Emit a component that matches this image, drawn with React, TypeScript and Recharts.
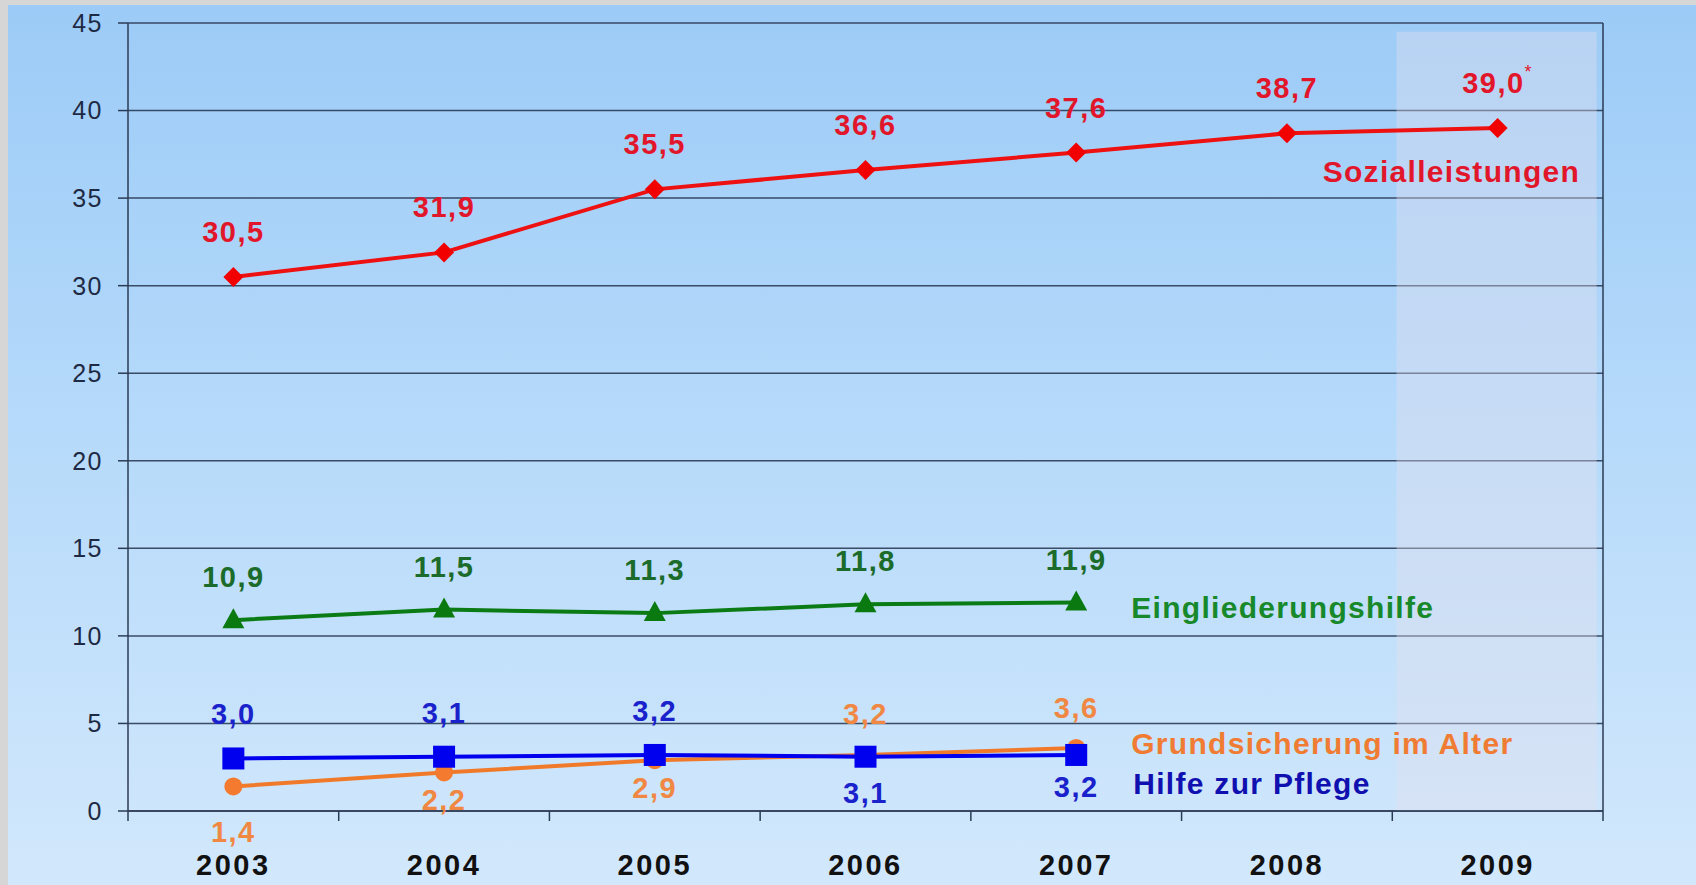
import { LineChart, Line, XAxis, YAxis, CartesianGrid, ReferenceArea, ReferenceLine, LabelList } from 'recharts'

const YEARS = [2003, 2004, 2005, 2006, 2007, 2008, 2009]
const SOZIALLEISTUNGEN = [30.5, 31.9, 35.5, 36.6, 37.6, 38.7, 39.0]
const EINGLIEDERUNGSHILFE = [10.9, 11.5, 11.3, 11.8, 11.9]
const GRUNDSICHERUNG = [1.4, 2.2, 2.9, 3.2, 3.6]
const HILFE_PFLEGE = [3.0, 3.1, 3.2, 3.1, 3.2]
const Y_TICKS = [0, 5, 10, 15, 20, 25, 30, 35, 40, 45]
const ESTIMATED_YEAR = 2009

// layout
const W = 1696
const H = 885
const M_TOP = 23
const M_RIGHT = 93
const Y_AXIS_W = 128
const X_AXIS_H = 74
const BAND = (W - Y_AXIS_W - M_RIGHT) / YEARS.length

const FONT = '"Liberation Sans", Arial, sans-serif'
const GRID = '#2b3b55'

const data = YEARS.map((year, i) => ({
  year,
  sozial: SOZIALLEISTUNGEN[i] ?? null,
  eingl: EINGLIEDERUNGSHILFE[i] ?? null,
  grund: GRUNDSICHERUNG[i] ?? null,
  pflege: HILFE_PFLEGE[i] ?? null,
}))

const bounds = [...YEARS.map((y) => y - 0.5), YEARS[YEARS.length - 1] + 0.5]

const fmt = (v: number) => v.toFixed(1).replace('.', ',')

// label offsets (px, center of text relative to marker)
const SOZ_DY = [-45, -45, -45, -45, -45, -45, -45]
const EIN_DY = [-43, -43, -43, -43, -43]
const GRU_DY = [46, 28, 28, -41, -40]
const PFL_DY = [-44, -44, -44, 36, 32]

type Shape = 'diamond' | 'triangle' | 'circle' | 'square'

function makeDot(shape: Shape, color: string) {
  return (p: any) => {
    const { cx, cy, index } = p
    if (cx == null || cy == null || Number.isNaN(cy) || p.value == null) return <g key={`e${index}`} />
    if (shape === 'diamond') {
      const r = 10
      return <path key={`d${index}`} d={`M${cx},${cy - r}L${cx + r},${cy}L${cx},${cy + r}L${cx - r},${cy}Z`} fill={color} />
    }
    if (shape === 'triangle') {
      return <path key={`d${index}`} d={`M${cx},${cy - 12}L${cx + 11},${cy + 8}L${cx - 11},${cy + 8}Z`} fill={color} />
    }
    if (shape === 'square') {
      return <rect key={`d${index}`} x={cx - 11} y={cy - 11} width={22} height={22} fill={color} />
    }
    return <circle key={`d${index}`} cx={cx} cy={cy} r={9} fill={color} />
  }
}

function makeLabel(
  dys: number[],
  color: string,
  name: string,
  nameColor: string,
  lastIndex: number,
  nameDx: number,
  nameDy: number,
) {
  return (p: any) => {
    const { x, y, value, index } = p
    if (value == null || x == null || y == null) return null
    const year = YEARS[index]
    return (
      <g key={`l${index}`}>
        <text
          x={x}
          y={y + dys[index]}
          textAnchor="middle"
          dominantBaseline="central"
          fill={color}
          fontFamily={FONT}
          fontWeight="bold"
          fontSize={29}
          letterSpacing={1.5}
        >
          {fmt(Number(value))}
          {year === ESTIMATED_YEAR && (
            <tspan fontSize={18} fontWeight="normal" dy={-11}>
              *
            </tspan>
          )}
        </text>
        {index === lastIndex && (
          <text
            x={x + nameDx}
            y={y + nameDy}
            dominantBaseline="central"
            fill={nameColor}
            fontFamily={FONT}
            fontWeight="bold"
            fontSize={30}
            letterSpacing={1.3}
          >
            {name}
          </text>
        )}
      </g>
    )
  }
}

function YearTick(p: any) {
  const { x, y, payload } = p
  const year = payload.value + 0.5
  if (!YEARS.includes(year)) return <g />
  return (
    <text
      x={x + BAND / 2}
      y={y + 54}
      textAnchor="middle"
      fill="#111"
      fontFamily={FONT}
      fontWeight="bold"
      fontSize={29}
      letterSpacing={2.5}
    >
      {year}
    </text>
  )
}

export default function App() {
  return (
    <div style={{ position: 'absolute', left: 0, top: 0, width: W, height: H, background: '#d6d6d6', overflow: 'hidden' }}>
      <div
        style={{
          position: 'absolute',
          left: 8,
          top: 5,
          width: W - 8,
          height: H - 5,
          background: 'linear-gradient(180deg, #9ccbf7 0%, #b4d9fa 45%, #d2e8fc 100%)',
        }}
      />
      <div style={{ position: 'absolute', left: 0, top: 0 }}>
        <LineChart width={W} height={H} data={data} margin={{ top: M_TOP, right: M_RIGHT, left: 0, bottom: 0 }}>
          <ReferenceArea
            x1={YEARS[YEARS.length - 1] - 0.48}
            x2={YEARS[YEARS.length - 1] + 0.47}
            y1={0}
            y2={44.5}
            fill="#e6dfec"
            fillOpacity={0.38}
            stroke="none"
          />
          <CartesianGrid vertical={false} stroke={GRID} strokeWidth={1.5} strokeOpacity={0.9} />
          <ReferenceLine x={bounds[bounds.length - 1]} stroke={GRID} strokeWidth={1.5} />
          <XAxis
            dataKey="year"
            type="number"
            domain={[bounds[0], bounds[bounds.length - 1]]}
            ticks={bounds}
            interval={0}
            height={X_AXIS_H}
            stroke={GRID}
            axisLine={{ stroke: GRID, strokeWidth: 1.5 }}
            tickLine={{ stroke: GRID, strokeWidth: 1.5 }}
            tickSize={10}
            tickMargin={0}
            tick={<YearTick />}
          />
          <YAxis
            domain={[0, 45]}
            ticks={Y_TICKS}
            interval={0}
            width={Y_AXIS_W}
            axisLine={{ stroke: GRID, strokeWidth: 1.5 }}
            tickLine={{ stroke: GRID, strokeWidth: 1.5 }}
            tickSize={10}
            tickMargin={15}
            tick={{ fill: '#1e2a44', fontSize: 25, fontFamily: FONT, letterSpacing: 1.5 }}
          />
          <Line
            dataKey="sozial"
            stroke="#ee1111"
            strokeWidth={4}
            dot={makeDot('diamond', '#f20000')}
            activeDot={false}
            isAnimationActive={false}
          >
            <LabelList
              dataKey="sozial"
              content={makeLabel(SOZ_DY, '#e2162a', 'Sozialleistungen', '#e2162a', SOZIALLEISTUNGEN.length - 1, -175, 43)}
            />
          </Line>
          <Line
            dataKey="eingl"
            stroke="#0b7b15"
            strokeWidth={4}
            dot={makeDot('triangle', '#0a7a10')}
            activeDot={false}
            isAnimationActive={false}
          >
            <LabelList
              dataKey="eingl"
              content={makeLabel(EIN_DY, '#1b6b2b', 'Eingliederungshilfe', '#17892a', EINGLIEDERUNGSHILFE.length - 1, 55, 5)}
            />
          </Line>
          <Line
            dataKey="grund"
            stroke="#f07a2a"
            strokeWidth={4}
            dot={makeDot('circle', '#f47a30')}
            activeDot={false}
            isAnimationActive={false}
          >
            <LabelList
              dataKey="grund"
              content={makeLabel(GRU_DY, '#f08844', 'Grundsicherung im Alter', '#f07c34', GRUNDSICHERUNG.length - 1, 55, -4)}
            />
          </Line>
          <Line
            dataKey="pflege"
            stroke="#0000ee"
            strokeWidth={4}
            dot={makeDot('square', '#0000ee')}
            activeDot={false}
            isAnimationActive={false}
          >
            <LabelList
              dataKey="pflege"
              content={makeLabel(PFL_DY, '#1a22cc', 'Hilfe zur Pflege', '#1010b0', HILFE_PFLEGE.length - 1, 57, 29)}
            />
          </Line>
        </LineChart>
      </div>
    </div>
  )
}
